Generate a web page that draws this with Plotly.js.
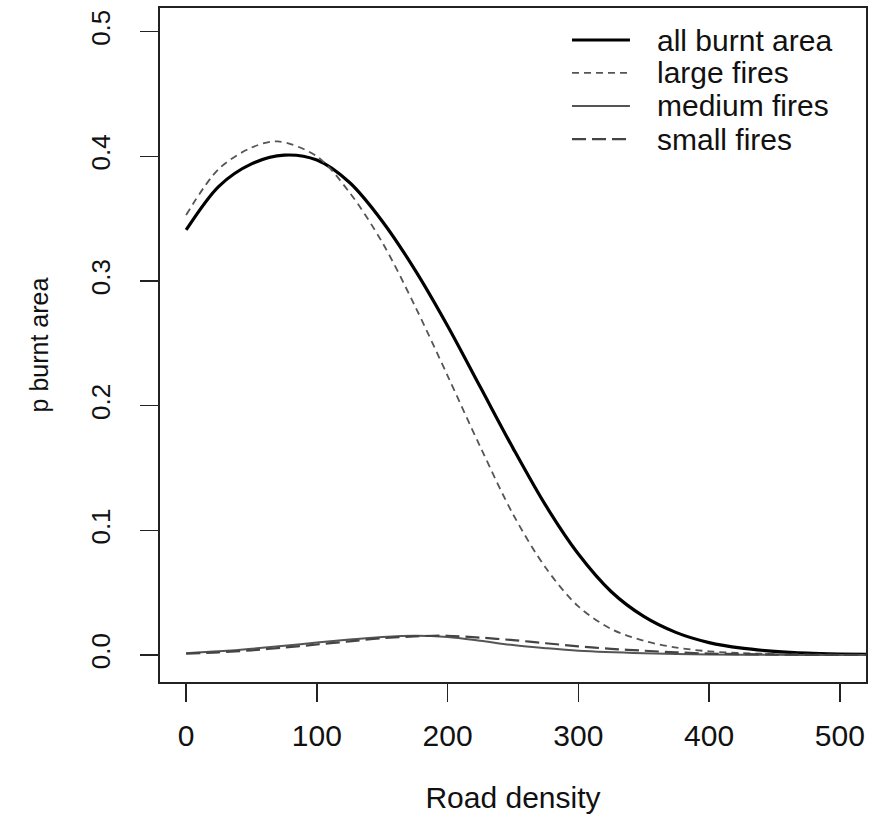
<!DOCTYPE html>
<html>
<head>
<meta charset="utf-8">
<script src="https://cdn.plot.ly/plotly-3.0.1.min.js"></script>
<style>html,body{margin:0;padding:0;background:#fff;}#chart{width:882px;height:826px;}</style>
</head>
<body>
<div id="chart"></div>
<script>
// Road density values (x) and p burnt area (y) per series
const allX   = [0, 25, 50, 75, 100, 125, 150, 175, 200, 225, 250, 275, 300, 325, 350, 375, 400, 425, 450, 475, 500, 520];
const allY   = [0.341, 0.376, 0.394, 0.401, 0.397, 0.379, 0.348, 0.309, 0.264, 0.215, 0.166, 0.120, 0.081, 0.051, 0.031, 0.018, 0.010, 0.0055, 0.003, 0.0015, 0.0008, 0.0005];

const largeX = [0, 25, 50, 70, 100, 125, 150, 175, 200, 225, 250, 275, 300, 325, 350, 375, 400, 425, 450, 475, 500, 520];
const largeY = [0.353, 0.390, 0.407, 0.412, 0.400, 0.371, 0.331, 0.280, 0.224, 0.167, 0.113, 0.070, 0.039, 0.021, 0.0115, 0.006, 0.003, 0.0016, 0.0008, 0.0004, 0.0002, 0.0001];

const medX   = [0, 25, 50, 75, 100, 125, 150, 175, 200, 225, 250, 275, 300, 350, 400, 450, 500, 520];
const medY   = [0.0015, 0.003, 0.005, 0.0075, 0.010, 0.0125, 0.0145, 0.0155, 0.0145, 0.0115, 0.008, 0.0055, 0.0035, 0.0015, 0.0005, 0.0002, 0.0001, 0.0001];

const smallX = [0, 25, 50, 75, 100, 125, 150, 175, 200, 225, 250, 275, 300, 325, 350, 375, 400, 450, 500, 520];
const smallY = [0.0012, 0.0022, 0.0038, 0.006, 0.0085, 0.011, 0.0135, 0.015, 0.0155, 0.014, 0.012, 0.0095, 0.007, 0.005, 0.0035, 0.0022, 0.0012, 0.0004, 0.0001, 0.0001];

const seriesNames = ["all burnt area", "large fires", "medium fires", "small fires"];

const xTicks = [0, 100, 200, 300, 400, 500];
const yTicks = [0.0, 0.1, 0.2, 0.3, 0.4, 0.5];
const yTickText = ["0.0", "0.1", "0.2", "0.3", "0.4", "0.5"];

const font = "Liberation Sans, Arial, sans-serif";

const styles = [
  {color: "#000000", width: 3.2, dash: "solid"},
  {color: "#555555", width: 1.8, dash: "7px,5px"},
  {color: "#555555", width: 2, dash: "solid"},
  {color: "#444444", width: 2.2, dash: "14px,6px"}
];
const xs = [allX, largeX, medX, smallX];
const ys = [allY, largeY, medY, smallY];

const traces = seriesNames.map((n, i) => ({
  x: xs[i], y: ys[i], name: n, mode: "lines", showlegend: false,
  line: {color: styles[i].color, width: styles[i].width, dash: styles[i].dash, shape: "spline", smoothing: 0.9}
}));

// Hand-built legend (R style) in paper coordinates
const legX0 = 0.5836, legX1 = 0.6657, legTextX = 0.7011;
const legYs = [0.9525, 0.9036, 0.8546, 0.8056];
const shapes = seriesNames.map((n, i) => ({
  type: "line", xref: "paper", yref: "paper", x0: legX0, x1: legX1, y0: legYs[i], y1: legYs[i],
  line: {color: styles[i].color, width: styles[i].width, dash: styles[i].dash}
}));
const annotations = seriesNames.map((n, i) => ({
  text: n, xref: "paper", yref: "paper", x: legTextX, y: legYs[i], xanchor: "left", yanchor: "middle",
  showarrow: false, font: {family: font, size: 30, color: "#111"}
}));

const layout = {
  width: 882, height: 826,
  margin: {l: 160, r: 16, t: 8, b: 144},
  paper_bgcolor: "#ffffff", plot_bgcolor: "#ffffff",
  font: {family: font, size: 27, color: "#111111"},
  showlegend: false,
  shapes: shapes,
  annotations: annotations,
  xaxis: {
    range: [-20, 520], tickvals: xTicks, ticks: "outside", ticklen: 18, tickwidth: 1.5,
    tickcolor: "#222", showgrid: false, zeroline: false, showline: true, mirror: true,
    linecolor: "#222", linewidth: 1.6, tickfont: {size: 30}, ticklabelstandoff: 8,
    title: {text: "Road density", font: {size: 30}, standoff: 36}
  },
  yaxis: {
    range: [-0.0216, 0.519], tickvals: yTicks, ticktext: yTickText, ticks: "outside", ticklen: 18,
    tickwidth: 1.5, tickcolor: "#222", showgrid: false, zeroline: false, showline: true, mirror: true,
    linecolor: "#222", linewidth: 1.6, tickangle: -90, tickfont: {size: 26}, ticklabelstandoff: 20,
    title: {text: "p burnt area", font: {size: 25}, standoff: 30}
  }
};

Plotly.newPlot("chart", traces, layout, {staticPlot: true, displayModeBar: false});
</script>
</body>
</html>
